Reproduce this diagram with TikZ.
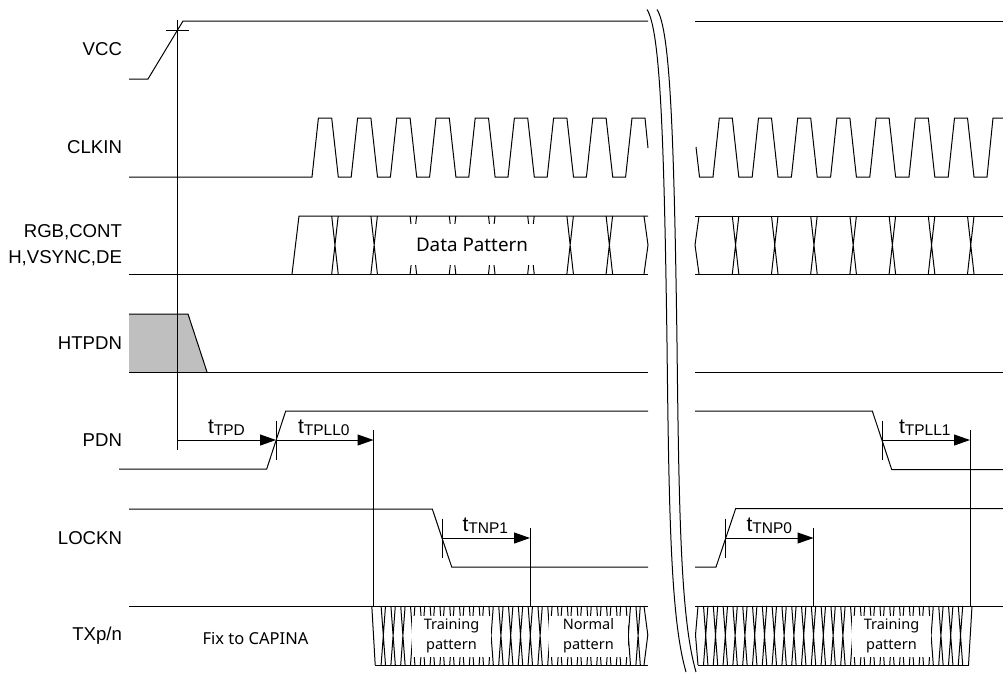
\documentclass[tikz,border=0pt]{standalone}
\usepackage{fontspec}
\setmainfont{Liberation Sans}
\newfontfamily\patternfont{Noto Sans}
\usetikzlibrary{calc,arrows.meta}

\tikzset{
    signal/.style={line width=1pt, line join=miter},
    timing/.style={line width=1pt, -{Triangle[length=16pt,width=11pt]}},
    sig_name/.style={anchor=east, font=\fontsize{18.6}{26}\selectfont, align=right},
    pattern_box/.style={fill=white, font=\patternfont\fontsize{14.5}{20}\selectfont, align=center, minimum height=41pt},
    time_name/.style={anchor=base west}
}
\newcommand{\tname}[1]{{\fontsize{21}{21}\selectfont t}\raisebox{-2pt}{\fontsize{15.5}{15.5}\selectfont #1}}

\begin{document}
\begin{tikzpicture}[inner sep=0pt,outer sep=0pt,x=1pt,y=-1pt]
    \useasboundingbox (0,0) rectangle (1003,673);

    % signal names
    \node[sig_name] (vcc_name) at (122,49) {VCC};
    \node[sig_name] (clkin_name) at (122,147) {CLKIN};
    \node[sig_name] (data_name) at (122,245) {RGB,CONT\\H,VSYNC,DE};
    \node[sig_name] (htpdn_name) at (122,343) {HTPDN};
    \node[sig_name] (pdn_name) at (122,440) {PDN};
    \node[sig_name] (lockn_name) at (122,538) {LOCKN};
    \node[sig_name] (tx_name) at (122,636) {TXp/n};

    % VCC
    \draw[signal] (129,79) -- (148,79) -- (183,21) -- (648,21);
    \draw[signal] (695,21) -- (1003,21);
    \draw[signal] (166,30) -- (189,30);

    % CLKIN
    \draw[signal] (129,177) foreach \k in {0,...,7} {
        -- ({312+39.2*\k},177) -- ({318.4+39.2*\k},118) -- ({331.7+39.2*\k},118) -- ({338.3+39.2*\k},177)
    } -- (625.6,177) -- (632,118) -- (645,118) -- (648,148);
    \draw[signal] (696,147) -- (699.5,177) foreach \k in {0,...,6} {
        -- ({713+39.2*\k},177) -- ({719.3+39.2*\k},118) -- ({732.3+39.2*\k},118) -- ({738.8+39.2*\k},177)
    } -- (987,177) -- (993,118) -- (1003,118);

    % RGB,CONT / H,VSYNC,DE
    \draw[signal] (129,274) -- (648,274);
    \draw[signal] (292,274) -- (299,216) -- (648,216);
    \draw[signal] (695,216) -- (1003,216);
    \draw[signal] (695,274) -- (1003,274);
    \foreach \c in {331.7,370.9,410.1,449.3,488.5,527.7,566.9,606.1,732.3,771.5,810.7,849.9,889.1,928.3,967.5}
        \draw[signal] (\c,216) -- ({\c+6.5},274) ({\c+6.5},216) -- (\c,274);
    \draw[signal] (644,216) -- (648,245) -- (644,274);
    \draw[signal] (699,216) -- (695,245) -- (699,274);
    \node[fill=white, font=\patternfont\fontsize{18.8}{20}\selectfont, minimum width=188.5pt, minimum height=41pt]
    (data_pattern) at (472,244.5) {Data Pattern};

    % HTPDN
    \fill[black!25] (129,314) -- (188,314) -- (207,372) -- (129,372) -- cycle;
    \draw[signal] (129,314) -- (188,314) -- (207,372);
    \draw[signal] (129,372) -- (648,372);
    \draw[signal] (695,372) -- (1003,372);

    % PDN
    \draw[signal] (119,469) -- (266.7,469) -- (285.7,411) -- (648,411);
    \draw[signal] (695,411) -- (872.3,411) -- (891.7,469.5) -- (1003,469.5);

    % LOCKN
    \draw[signal] (129,509) -- (432.3,509) -- (451.7,567) -- (648,567);
    \draw[signal] (695,567) -- (716,567) -- (735.7,508.5) -- (1003,508.5);

    % TXp/n
    \draw[signal] (129,606) -- (648,606);
    \draw[signal] (375,665) -- (648,665);
    \draw[signal] (695,606) -- (1003,606);
    \draw[signal] (698,665) -- (968.5,665);
    \draw[signal] (371.8,606) -- (375.2,665);
    \draw[signal] (972,606) -- (968.5,665);
    \foreach \k in {1,...,27}
        \draw[signal] ({371.3+9.8*\k},606) -- ({375.7+9.8*\k},665) ({375.7+9.8*\k},606) -- ({371.3+9.8*\k},665);
    \foreach \k in {0,...,26}
        \draw[signal] ({703.5+9.8*\k},606) -- ({707.9+9.8*\k},665) ({707.9+9.8*\k},606) -- ({703.5+9.8*\k},665);
    \draw[signal] (644,606) -- (647.8,635) -- (644,665);
    \draw[signal] (698,606) -- (695.5,635) -- (698,665);
    \node[pattern_box, minimum width=79pt] (training_left) at (451.5,636) {Training\\pattern};
    \node[pattern_box, minimum width=79pt] (normal_box) at (588.5,636) {Normal\\pattern};
    \node[pattern_box, minimum width=79pt] (training_right) at (891.5,636) {Training\\pattern};
    \node[font=\patternfont\fontsize{16.5}{18}\selectfont] (fix_capina) at (255.5,638) {Fix to CAPINA};

    % break marks
    \foreach \d in {0,10}
        \draw[signal] (647+\d,9.5) .. controls (660+\d,30) and (664+\d,130) .. (667+\d,343)
        .. controls (669+\d,520) and (671+\d,620) .. (686+\d,672);

    % timing references
    \coordinate (vcc_ref) at (177,20);
    \coordinate (tpd_start) at (177,440);
    \coordinate (tpd_end) at (276,440);
    \coordinate (tpll0_end) at (373.5,440);
    \coordinate (tnp1_start) at (442,538);
    \coordinate (tnp1_end) at (530,538);
    \coordinate (tnp0_start) at (725.7,538);
    \coordinate (tnp0_end) at (813.5,538);
    \coordinate (tpll1_start) at (882,440);
    \coordinate (tpll1_end) at (970,440);

    \draw[signal] (vcc_ref) -- ($(tpd_start)+(0,10)$);
    \draw[signal] ($(tpd_end)+(0,-19.5)$) -- ($(tpd_end)+(0,20)$);
    \draw[signal] ($(tpll0_end)+(0,-10)$) -- (373.5,606);
    \draw[signal] ($(tnp1_start)+(0,-19.5)$) -- ($(tnp1_start)+(0,19.5)$);
    \draw[signal] ($(tnp1_end)+(0,-10)$) -- (530,606);
    \draw[signal] ($(tnp0_start)+(0,-19.5)$) -- ($(tnp0_start)+(0,19.5)$);
    \draw[signal] ($(tnp0_end)+(0,-10)$) -- (813.5,606);
    \draw[signal] ($(tpll1_start)+(0,-19.5)$) -- ($(tpll1_start)+(0,19.5)$);
    \draw[signal] ($(tpll1_end)+(0,-10)$) -- (970,606);

    \draw[timing] (tpd_start) -- (tpd_end);
    \draw[timing] (tpd_end) -- (tpll0_end);
    \draw[timing] (tnp1_start) -- (tnp1_end);
    \draw[timing] (tnp0_start) -- (tnp0_end);
    \draw[timing] (tpll1_start) -- (tpll1_end);

    \node[time_name] (tpd_name) at (208,433) {\tname{TPD}};
    \node[time_name] (tpll0_name) at (298,433) {\tname{TPLL0}};
    \node[time_name] (tnp1_name) at (462.5,531.5) {\tname{TNP1}};
    \node[time_name] (tnp0_name) at (746.5,531.5) {\tname{TNP0}};
    \node[time_name] (tpll1_name) at (899,433) {\tname{TPLL1}};
\end{tikzpicture}
\end{document}
